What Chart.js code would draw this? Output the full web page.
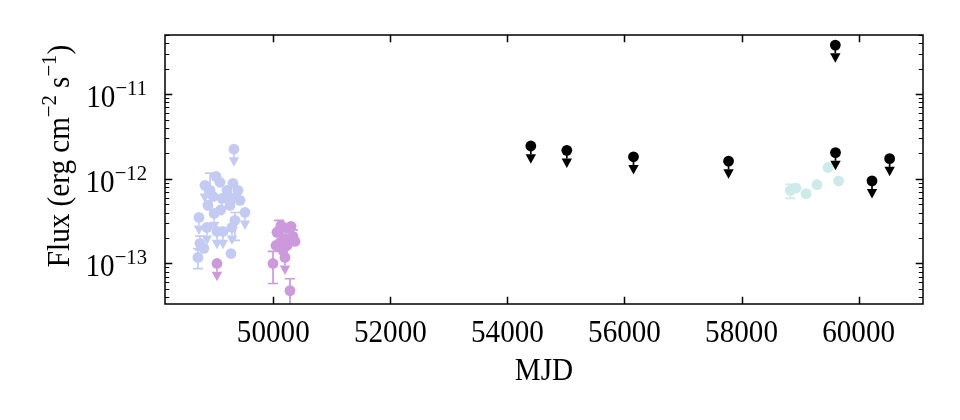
<!DOCTYPE html>
<html>
<head>
<meta charset="utf-8">
<script src="https://cdn.jsdelivr.net/npm/chart.js@4.4.1/dist/chart.umd.min.js"></script>
<style>
  html, body { margin: 0; padding: 0; background: #fff; }
  #wrap { width: 960px; height: 420px; }
</style>
</head>
<body>
<div id="wrap"><canvas id="fluxChart" width="960" height="420"></canvas></div>
<script>
// Valores
const xTicks = [50000, 52000, 54000, 56000, 58000, 60000];
const yTicks = [1e-13, 1e-12, 1e-11];
const yTickExp = ['\u221213', '\u221212', '\u221211'];

// grupo azul claro
const blueMjd   = [49328, 48920, 48832, 49311, 49209, 49123, 48884, 49260, 49345, 49516, 48730, 48867, 49038, 49140, 49294, 49345, 48747, 48815, 48713, 49277, 49100, 48990, 49021, 49089, 49226, 49397, 48969, 49431];
const blueFlux  = [2.24e-12, 7.3e-13, 8.37e-13, 8.85e-13, 7.31e-13, 5.88e-13, 4.85e-13, 4.85e-13, 6.04e-13, 4.02e-13, 3.5e-13, 2.67e-13, 2.39e-13, 2.39e-13, 2.67e-13, 3.23e-13, 1.73e-13, 1.51e-13, 1.18e-13, 1.31e-13, 4.3e-13, 3.9e-13, 1.07e-12, 9.1e-13, 6.21e-13, 7.31e-13, 6.21e-13, 5.57e-13];
const blueLimit = [1, 0, 1, 0, 0, 1, 0, 0, 0, 1, 1, 1, 1, 1, 1, 0, 0, 0, 0, 0, 0, 1, 0, 0, 0, 0, 0, 0];
const blueErrLo = [null, 5.5e-13, null, null, null, null, null, null, null, null, null, null, null, null, null, 1.87e-13, 1.45e-13, null, 8.7e-14, null, null, null, null, null, null, null, null, null];
const blueErrHi = [null, 1.17e-12, null, null, null, null, null, null, null, null, null, null, null, null, null, 4.0e-13, 2.1e-13, null, 1.5e-13, null, null, null, null, null, null, null, null, null];

// grupo violeta
const purpleMjd   = [50132, 50251, 50063, 50337, 50200, 50115, 50371, 50234, 50046, 50097, 49995, 50200, 50285, 49038, 50303, 50166];
const purpleFlux  = [2.82e-13, 2.6e-13, 2.33e-13, 2.09e-13, 1.98e-13, 1.77e-13, 1.82e-13, 1.63e-13, 1.63e-13, 2.45e-13, 1.0e-13, 1.18e-13, 4.78e-14, 1.0e-13, 2.74e-13, 1.43e-13];
const purpleLimit = [0, 0, 0, 0, 0, 0, 0, 0, 0, 0, 0, 1, 0, 1, 0, 0];
const purpleErrLo = [null, null, null, 1.65e-13, null, null, null, null, null, null, 5.8e-14, null, 2.5e-14, null, null, null];
const purpleErrHi = [null, null, null, 2.5e-13, null, null, null, null, null, 3.23e-13, 1.39e-13, null, 6.6e-14, null, null, null];

// grupo turquesa
const cyanMjd   = [58833, 58930, 59101, 59289, 59477, 59658];
const cyanFlux  = [7.31e-13, 7.78e-13, 6.68e-13, 8.53e-13, 1.36e-12, 9.42e-13];
const cyanLimit = [0, 0, 0, 0, 0, 0];
const cyanErrLo = [5.88e-13, null, null, null, null, null];
const cyanErrHi = [8.6e-13, null, null, null, null, null];

// límites superiores negros
const blackMjd   = [54400, 55015, 56154, 57778, 59602, 59605, 60229, 60530];
const blackFlux  = [2.44e-12, 2.17e-12, 1.82e-12, 1.62e-12, 3.8e-11, 2.04e-12, 9.46e-13, 1.73e-12];
const blackLimit = [1, 1, 1, 1, 1, 1, 1, 1];

const LIMIT_DROP = 0.8;   // base de la flecha de límite superior
const FONT = "'Liberation Serif', 'DejaVu Serif', serif";
const FS = 31, FS_SUP = 22;
const SX = 0.94;          // serif algo más estrecha y alta, como Computer Modern

function makeSet(mjd, flux, limit, lo, hi, color, order) {
    return {
        data: mjd.map((x, i) => ({ x: x, y: flux[i] })),
        limit: limit,
        errLo: lo || [],
        errHi: hi || [],
        backgroundColor: color,
        borderColor: color,
        pointRadius: 5.4,
        pointHoverRadius: 5.4,
        pointBorderWidth: 0,
        showLine: false,
        order: order
    };
}

/**
 * Barras de error y flechas de límite, dibujadas antes de cada dataset
 */
const errorBars = {
    id: 'errorBars',
    beforeDatasetDraw(chart, args) {
        const ds = chart.data.datasets[args.index];
        const { ctx, chartArea: a } = chart;
        const x = chart.scales.x, y = chart.scales.y;
        ctx.save();
        ctx.beginPath();
        ctx.rect(a.left, a.top, a.right - a.left, a.bottom - a.top);
        ctx.clip();
        ctx.strokeStyle = ds.backgroundColor;
        ctx.fillStyle = ds.backgroundColor;
        ctx.lineWidth = 1.7;
        ds.data.forEach((p, i) => {
            const px = x.getPixelForValue(p.x);
            const py = y.getPixelForValue(p.y);
            const lo = ds.errLo[i], hi = ds.errHi[i];
            if (lo != null || hi != null) {
                const yl = y.getPixelForValue(lo != null ? lo : p.y);
                const yh = y.getPixelForValue(hi != null ? hi : p.y);
                ctx.beginPath();
                ctx.moveTo(px, yh); ctx.lineTo(px, yl);
                if (hi != null) { ctx.moveTo(px - 5, yh); ctx.lineTo(px + 5, yh); }
                if (lo != null) { ctx.moveTo(px - 5, yl); ctx.lineTo(px + 5, yl); }
                ctx.stroke();
            }
            if (ds.limit[i]) {
                const yb = y.getPixelForValue(p.y * LIMIT_DROP);
                ctx.beginPath();
                ctx.moveTo(px, py); ctx.lineTo(px, yb);
                ctx.stroke();
                ctx.beginPath();
                ctx.moveTo(px - 5.2, yb);
                ctx.lineTo(px + 5.2, yb);
                ctx.lineTo(px, yb + 9.5);
                ctx.closePath();
                ctx.fill();
            }
        });
        ctx.restore();
    }
};

// texto con superíndices: trozos [texto, esSuper]
function piecesWidth(ctx, pieces) {
    let w = 0;
    pieces.forEach(([t, sup]) => {
        ctx.font = (sup ? FS_SUP : FS) + 'px ' + FONT;
        w += ctx.measureText(t).width;
    });
    return w * SX;
}
function drawPieces(ctx, pieces, x0, y0, rise) {
    ctx.save();
    ctx.translate(x0, y0);
    ctx.scale(SX, 1);
    let cx = 0;
    pieces.forEach(([t, sup]) => {
        ctx.font = (sup ? FS_SUP : FS) + 'px ' + FONT;
        ctx.fillText(t, cx, sup ? -rise : 0);
        cx += ctx.measureText(t).width;
    });
    ctx.restore();
}
function drawCentered(ctx, text, cx, y) {
    const w = piecesWidth(ctx, [[text, false]]);
    drawPieces(ctx, [[text, false]], cx - w / 2, y, 0);
}

/**
 * Marco, ticks hacia dentro y etiquetas estilo matplotlib
 */
const frameAxes = {
    id: 'frameAxes',
    afterDraw(chart) {
        const { ctx, chartArea: a } = chart;
        const x = chart.scales.x, y = chart.scales.y;
        ctx.save();
        ctx.strokeStyle = '#000';
        ctx.fillStyle = '#000';
        ctx.textAlign = 'left';
        ctx.textBaseline = 'alphabetic';

        // ticks menores (log)
        ctx.lineWidth = 1.2;
        ctx.beginPath();
        for (let e = -14; e <= -11; e++) {
            for (let k = 2; k <= 9; k++) {
                const v = k * Math.pow(10, e);
                if (v < y.min || v > y.max) continue;
                const py = Math.round(y.getPixelForValue(v)) + 0.5;
                ctx.moveTo(a.left, py); ctx.lineTo(a.left + 4.2, py);
                ctx.moveTo(a.right, py); ctx.lineTo(a.right - 4.2, py);
            }
        }
        ctx.stroke();

        // ticks mayores
        ctx.lineWidth = 1.5;
        ctx.beginPath();
        yTicks.forEach(v => {
            const py = Math.round(y.getPixelForValue(v)) + 0.5;
            ctx.moveTo(a.left, py); ctx.lineTo(a.left + 7.3, py);
            ctx.moveTo(a.right, py); ctx.lineTo(a.right - 7.3, py);
        });
        xTicks.forEach(v => {
            const px = Math.round(x.getPixelForValue(v)) + 0.5;
            ctx.moveTo(px, a.bottom); ctx.lineTo(px, a.bottom - 7.3);
            ctx.moveTo(px, a.top); ctx.lineTo(px, a.top + 7.3);
        });
        ctx.stroke();

        // marco
        ctx.strokeRect(a.left, a.top, a.right - a.left, a.bottom - a.top);

        // etiquetas eje x
        xTicks.forEach(v => drawCentered(ctx, String(v), x.getPixelForValue(v), 342));
        drawCentered(ctx, 'MJD', (a.left + a.right) / 2, 380);

        // etiquetas eje y: 10^-n
        yTicks.forEach((v, i) => {
            const pieces = [['10', false], [yTickExp[i], true]];
            const w = piecesWidth(ctx, pieces);
            drawPieces(ctx, pieces, 147 - w, y.getPixelForValue(v) + 13, 12);
        });

        // título eje y
        const title = [['Flux (erg cm', false], ['\u22122', true], [' s', false], ['\u22121', true], [')', false]];
        const tw = piecesWidth(ctx, title);
        ctx.translate(69, 156);
        ctx.rotate(-Math.PI / 2);
        drawPieces(ctx, title, -tw / 2, 0, 13);
        ctx.restore();
    }
};

const chart = new Chart(document.getElementById('fluxChart'), {
    type: 'scatter',
    data: {
        datasets: [
            makeSet(blueMjd, blueFlux, blueLimit, blueErrLo, blueErrHi, '#c3cbf3', 4),
            makeSet(purpleMjd, purpleFlux, purpleLimit, purpleErrLo, purpleErrHi, '#cc99dd', 3),
            makeSet(cyanMjd, cyanFlux, cyanLimit, cyanErrLo, cyanErrHi, '#cdeaeb', 2),
            makeSet(blackMjd, blackFlux, blackLimit, null, null, '#000000', 1)
        ]
    },
    options: {
        responsive: false,
        animation: false,
        events: [],
        layout: { padding: { top: 35, right: 37, left: 0, bottom: 0 } },
        plugins: { legend: { display: false }, tooltip: { enabled: false } },
        scales: {
            x: {
                type: 'linear',
                min: 48150,
                max: 61100,
                grid: { display: false },
                border: { display: false },
                ticks: { display: false },
                afterBuildTicks: s => { s.ticks = xTicks.map(v => ({ value: v })); },
                afterFit: s => { s.height = 116; }
            },
            y: {
                type: 'logarithmic',
                min: 3.32e-14,
                max: 5e-11,
                grid: { display: false },
                border: { display: false },
                ticks: { display: false },
                afterBuildTicks: s => { s.ticks = yTicks.map(v => ({ value: v })); },
                afterFit: s => { s.width = 165; }
            }
        }
    },
    plugins: [errorBars, frameAxes]
});
</script>
</body>
</html>
